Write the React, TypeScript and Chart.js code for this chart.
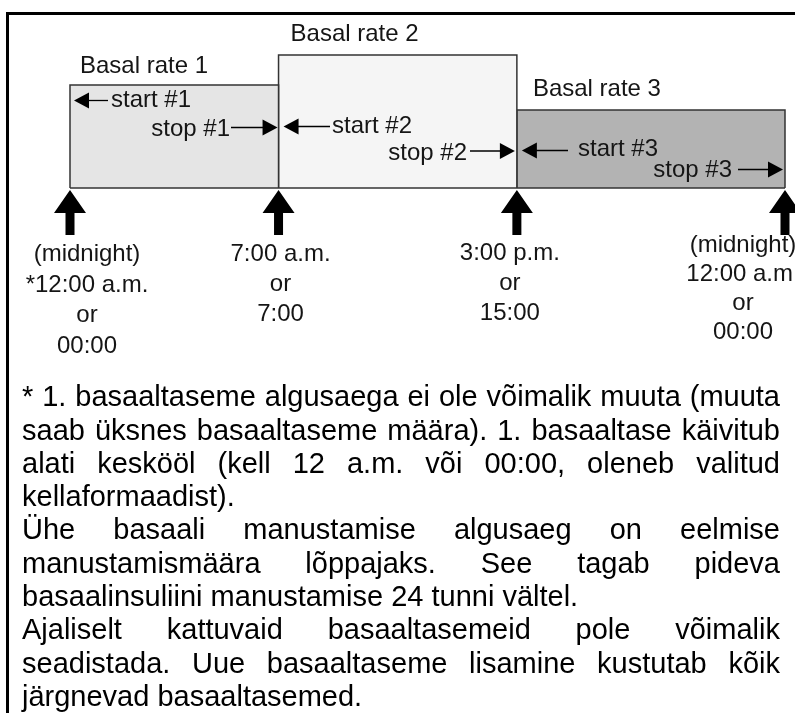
import React, { useEffect, useRef } from "react";
import { Chart, registerables } from "chart.js";

Chart.register(...registerables);

// ---- data ----
const starts = [0, 7, 15];
const ends = [7, 15, 24];
const rates = [1.03, 1.33, 0.78];
const rateLabels = ["Basal rate 1", "Basal rate 2", "Basal rate 3"];
const startLabels = ["start #1", "start #2", "start #3"];
const stopLabels = ["stop #1", "stop #2", "stop #3"];
const boundaryHours = [0, 7, 15, 24];
const timeLabels = [
  ["(midnight)", "*12:00 a.m.", "or", "00:00"],
  ["7:00 a.m.", "or", "7:00"],
  ["3:00 p.m.", "or", "15:00"],
  ["(midnight)", "12:00 a.m.", "or", "00:00"],
];
const noteLines = [
  "* 1. basaaltaseme algusaega ei ole võimalik muuta (muuta",
  "saab üksnes basaaltaseme määra). 1. basaaltase käivitub",
  "alati keskööl (kell 12 a.m. või 00:00, oleneb valitud",
  "kellaformaadist).",
  "Ühe basaali manustamise algusaeg on eelmise",
  "manustamismäära lõppajaks. See tagab pideva",
  "basaalinsuliini manustamise 24 tunni vältel.",
  "Ajaliselt kattuvaid basaaltasemeid pole võimalik",
  "seadistada. Uue basaaltaseme lisamine kustutab kõik",
  "järgnevad basaaltasemed.",
];
const noteJustified = [true, true, true, false, true, true, false, true, true, false];

// ---- styles ----
const FONT = "'Liberation Sans', Arial, sans-serif";
const fills = ["#e5e5e5", "#f5f5f5", "#b3b3b3"];
const rateLabelDx = [10, 12, 16];
const rateLabelDy = [12, 14, 14];
const startLayout = [
  { dx: 4, y: 100.5, tail: 108, textX: 111, base: 107 },
  { dx: 5, y: 126.5, tail: 330, textX: 332, base: 133 },
  { dx: 5, y: 150.5, tail: 568, textX: 578, base: 155.5 },
];
const stopLayout = [
  { dx: -1, y: 127.5, tail: 231, textX: 230, base: 135.5 },
  { dx: -2, y: 151, tail: 470, textX: 467, base: 159.5 },
  { dx: -2, y: 169.5, tail: 738, textX: 732, base: 176.5 },
];
const timeLabelDx = [17, 2, -7, -42];
const timeLabelTop = [261, 261, 260, 252];
const timeLabelGap = [30.5, 30, 30, 29];

function arrowHead(ctx: CanvasRenderingContext2D, tipX: number, y: number, dir: number) {
  ctx.beginPath();
  ctx.moveTo(tipX, y);
  ctx.lineTo(tipX - dir * 15, y - 8);
  ctx.lineTo(tipX - dir * 15, y + 8);
  ctx.closePath();
  ctx.fill();
}

const diagramPlugin = {
  id: "diagram",
  afterDatasetsDraw(chart: any) {
    const ctx: CanvasRenderingContext2D = chart.ctx;
    const xs = chart.scales.x;
    const ys = chart.scales.y;
    const px = (h: number) => xs.getPixelForValue(h);
    const py = (v: number) => ys.getPixelForValue(v);
    const y0 = py(0);
    ctx.save();

    // outer frame
    ctx.strokeStyle = "#000";
    ctx.lineWidth = 3;
    ctx.strokeRect(7.5, 13.5, 1000, 1000);

    // base line
    ctx.strokeStyle = "#333";
    ctx.lineWidth = 1.5;
    ctx.beginPath();
    ctx.moveTo(px(boundaryHours[0]), y0);
    ctx.lineTo(px(boundaryHours[boundaryHours.length - 1]), y0);
    ctx.stroke();

    // big arrows
    ctx.fillStyle = "#000";
    boundaryHours.forEach((h) => {
      const x = px(h);
      ctx.beginPath();
      ctx.moveTo(x, y0 + 2);
      ctx.lineTo(x + 16, y0 + 25);
      ctx.lineTo(x + 4.5, y0 + 25);
      ctx.lineTo(x + 4.5, y0 + 47);
      ctx.lineTo(x - 4.5, y0 + 47);
      ctx.lineTo(x - 4.5, y0 + 25);
      ctx.lineTo(x - 16, y0 + 25);
      ctx.closePath();
      ctx.fill();
    });

    ctx.fillStyle = "#151515";
    ctx.textBaseline = "alphabetic";
    ctx.font = `24px ${FONT}`;

    // rate labels
    ctx.textAlign = "left";
    rateLabels.forEach((t, i) => {
      ctx.fillText(t, px(starts[i]) + rateLabelDx[i], py(rates[i]) - rateLabelDy[i]);
    });

    // start / stop arrows
    ctx.strokeStyle = "#000";
    ctx.lineWidth = 1.3;
    startLabels.forEach((t, i) => {
      const L = startLayout[i];
      const tip = px(starts[i]) + L.dx;
      ctx.beginPath();
      ctx.moveTo(tip + 10, L.y);
      ctx.lineTo(L.tail, L.y);
      ctx.stroke();
      ctx.fillStyle = "#000";
      arrowHead(ctx, tip, L.y, -1);
      ctx.fillStyle = "#151515";
      ctx.textAlign = "left";
      ctx.fillText(t, L.textX, L.base);
    });
    stopLabels.forEach((t, i) => {
      const L = stopLayout[i];
      const tip = px(ends[i]) + L.dx;
      ctx.beginPath();
      ctx.moveTo(L.tail, L.y);
      ctx.lineTo(tip - 10, L.y);
      ctx.stroke();
      ctx.fillStyle = "#000";
      arrowHead(ctx, tip, L.y, 1);
      ctx.fillStyle = "#151515";
      ctx.textAlign = "right";
      ctx.fillText(t, L.textX, L.base);
    });

    // time labels
    ctx.textAlign = "center";
    boundaryHours.forEach((h, i) => {
      const cx = px(h) + timeLabelDx[i];
      timeLabels[i].forEach((line, j) => {
        ctx.fillText(line, cx, timeLabelTop[i] + j * timeLabelGap[i]);
      });
    });

    ctx.restore();
  },
};

export default function App() {
  const ref = useRef<HTMLCanvasElement>(null);
  useEffect(() => {
    if (!ref.current) return;
    const datasets = starts.map((s, i) => ({
      label: rateLabels[i],
      data: [
        { x: s, y: 0 },
        { x: s, y: rates[i] },
        { x: ends[i], y: rates[i] },
        { x: ends[i], y: 0 },
      ],
      borderColor: "#333",
      borderWidth: 1.5,
      backgroundColor: fills[i],
      fill: "origin",
      pointRadius: 0,
      tension: 0,
      clip: false,
    }));
    const chart = new Chart(ref.current, {
      type: "line",
      data: { datasets },
      options: {
        animation: false,
        responsive: false,
        maintainAspectRatio: false,
        devicePixelRatio: 1,
        layout: { padding: { left: 70, right: 10, top: 38, bottom: 525 } },
        plugins: { legend: { display: false }, tooltip: { enabled: false } },
        scales: {
          x: { type: "linear", min: 0, max: 24, display: false },
          y: { type: "linear", min: 0, max: 1.5, display: false },
        },
      },
      plugins: [diagramPlugin],
    } as any);
    return () => chart.destroy();
  }, []);

  return (
    <div
      style={{
        position: "absolute",
        left: 0,
        top: 0,
        width: 795,
        height: 713,
        overflow: "hidden",
        background: "#fff",
      }}
    >
      <canvas ref={ref} width={795} height={713} style={{ position: "absolute", left: 0, top: 0 }} />
      <div
        style={{
          position: "absolute",
          left: 22,
          top: 380.3,
          width: 758,
          fontFamily: FONT,
          fontSize: 29,
          lineHeight: "33.3px",
          color: "#000",
        }}
      >
        {noteLines.map((line, i) => (
          <div
            key={i}
            style={{
              whiteSpace: "nowrap",
              textAlign: noteJustified[i] ? "justify" : "left",
              textAlignLast: noteJustified[i] ? "justify" : "left",
            } as any}
          >
            {line}
          </div>
        ))}
      </div>
    </div>
  );
}
